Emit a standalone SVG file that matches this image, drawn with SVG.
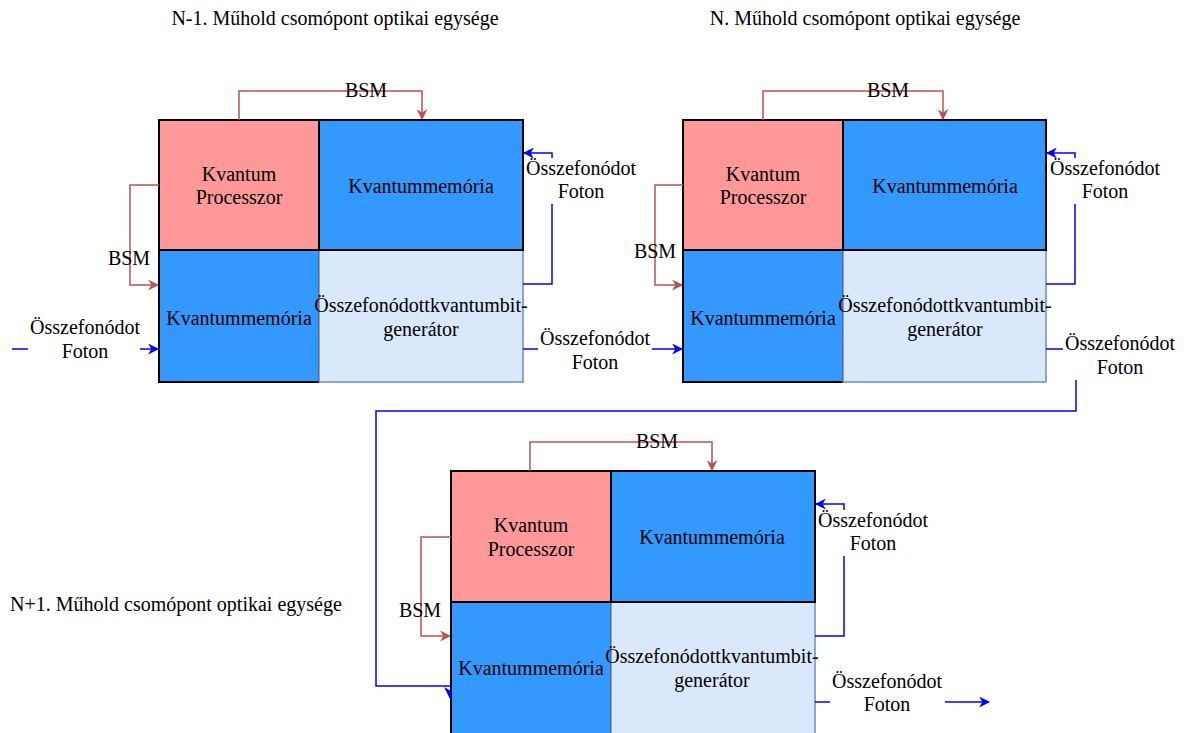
<svg xmlns="http://www.w3.org/2000/svg" width="1184" height="733" viewBox="0 0 1184 733">
  <style>
    text { font-family: "Liberation Serif", "Times New Roman", serif; font-size: 20px; fill: #000; text-anchor: middle; dominant-baseline: central; }
    .proc { fill: #FF9999; stroke: #000; stroke-width: 2; }
    .mem { fill: #3399FF; stroke: #000; stroke-width: 2; }
    .gen { fill: #DAE8FC; stroke: #6C8EBF; stroke-width: 1.5; }
    .bsm { fill: none; stroke: #B85450; stroke-width: 1.5; }
    .photon { fill: none; stroke: #0000FF; stroke-width: 1.5; }
  </style>
  <defs>
    <marker id="arrRed" viewBox="0 0 10 10" refX="9" refY="5" markerWidth="11" markerHeight="11" markerUnits="userSpaceOnUse" orient="auto">
      <path d="M0,0 L10,5 L0,10 L3,5 z" fill="#B85450"/>
    </marker>
    <marker id="arrBlue" viewBox="0 0 10 10" refX="9" refY="5" markerWidth="11" markerHeight="11" markerUnits="userSpaceOnUse" orient="auto">
      <path d="M0,0 L10,5 L0,10 L3,5 z" fill="#0000FF"/>
    </marker>
  </defs>

  <!-- titles -->
  <text x="335" y="18">N-1. Műhold csomópont optikai egysége</text>
  <text x="865" y="18">N. Műhold csomópont optikai egysége</text>
  <text x="10" y="604" style="text-anchor:start">N+1. Műhold csomópont optikai egysége</text>

  <!-- node N-1 -->
  <g id="node-n-minus-1" transform="translate(159,120)">
    <rect class="proc" x="0" y="0" width="160" height="130"/>
    <rect class="mem" x="0" y="130" width="160" height="132"/>
    <rect class="gen" x="160" y="130" width="204" height="132"/>
    <rect class="mem" x="160" y="0" width="204" height="130"/>
    <text x="80" y="54">Kvantum</text>
    <text x="80" y="77">Processzor</text>
    <text x="262" y="66">Kvantummemória</text>
    <text x="80" y="198">Kvantummemória</text>
    <text x="262" y="185">Összefonódottkvantumbit-</text>
    <text x="262" y="209">generátor</text>
  </g>

  <!-- node N -->
  <g id="node-n" transform="translate(683,120)">
    <rect class="proc" x="0" y="0" width="160" height="130"/>
    <rect class="mem" x="0" y="130" width="160" height="132"/>
    <rect class="gen" x="160" y="130" width="203" height="132"/>
    <rect class="mem" x="160" y="0" width="203" height="130"/>
    <text x="80" y="54">Kvantum</text>
    <text x="80" y="77">Processzor</text>
    <text x="262" y="66">Kvantummemória</text>
    <text x="80" y="198">Kvantummemória</text>
    <text x="262" y="185">Összefonódottkvantumbit-</text>
    <text x="262" y="209">generátor</text>
  </g>

  <!-- node N+1 -->
  <g id="node-n-plus-1" transform="translate(451,471)">
    <rect class="proc" x="0" y="0" width="160" height="131"/>
    <rect class="mem" x="0" y="131" width="160" height="132"/>
    <rect class="gen" x="160" y="131" width="204" height="132"/>
    <rect class="mem" x="160" y="0" width="204" height="131"/>
    <text x="80" y="54">Kvantum</text>
    <text x="80" y="78">Processzor</text>
    <text x="261" y="66">Kvantummemória</text>
    <text x="80" y="197">Kvantummemória</text>
    <text x="261" y="185">Összefonódottkvantumbit-</text>
    <text x="261" y="209">generátor</text>
  </g>

  <!-- connectors -->
  <g id="connectors">
    <!-- BSM links, node N-1 -->
    <path class="bsm" d="M239,120 V91 H422 V119" marker-end="url(#arrRed)"/>
    <path class="bsm" d="M159,185 H130 V285 H158" marker-end="url(#arrRed)"/>
    <!-- BSM links, node N -->
    <path class="bsm" d="M763,120 V91 H943 V119" marker-end="url(#arrRed)"/>
    <path class="bsm" d="M683,185 H655 V285 H682" marker-end="url(#arrRed)"/>
    <!-- BSM links, node N+1 -->
    <path class="bsm" d="M530,471 V442 H712 V470" marker-end="url(#arrRed)"/>
    <path class="bsm" d="M451,537 H421 V636 H450" marker-end="url(#arrRed)"/>

    <!-- photon loop, node N-1 -->
    <path class="photon" d="M523,284 H552 V204"/>
    <path class="photon" d="M552,158 V153 H524" marker-end="url(#arrBlue)"/>
    <!-- photon loop, node N -->
    <path class="photon" d="M1046,284 H1075 V204"/>
    <path class="photon" d="M1075,158 V153 H1047" marker-end="url(#arrBlue)"/>
    <!-- photon loop, node N+1 -->
    <path class="photon" d="M815,636 H844 V556"/>
    <path class="photon" d="M844,510 V504 H816" marker-end="url(#arrBlue)"/>

    <!-- incoming photon to node N-1 -->
    <path class="photon" d="M12,349 H28"/>
    <path class="photon" d="M140,349 H158" marker-end="url(#arrBlue)"/>
    <!-- node N-1 to node N -->
    <path class="photon" d="M523,349 H538"/>
    <path class="photon" d="M652,349 H682" marker-end="url(#arrBlue)"/>
    <!-- node N to node N+1 -->
    <path class="photon" d="M1046,349 H1063"/>
    <path class="photon" d="M1076,380 V411 H376 V686 H451"/>
    <path d="M444,687 L451,691 L451,701 Z" fill="#0000FF"/>
    <!-- outgoing photon from node N+1 -->
    <path class="photon" d="M815,702 H830"/>
    <path class="photon" d="M945,702 H989" marker-end="url(#arrBlue)"/>

    <!-- connector labels -->
    <g id="connector-labels">
      <text x="366" y="90">BSM</text>
      <text x="129" y="258">BSM</text>
      <text x="888" y="90">BSM</text>
      <text x="655" y="251">BSM</text>
      <text x="657" y="441">BSM</text>
      <text x="420" y="610">BSM</text>

      <text x="581" y="168">Összefonódot</text>
      <text x="581" y="191">Foton</text>
      <text x="1105" y="168">Összefonódot</text>
      <text x="1105" y="191">Foton</text>
      <text x="873" y="520">Összefonódot</text>
      <text x="873" y="543">Foton</text>

      <text x="85" y="327">Összefonódot</text>
      <text x="85" y="351">Foton</text>
      <text x="595" y="338">Összefonódot</text>
      <text x="595" y="362">Foton</text>
      <text x="1120" y="343">Összefonódot</text>
      <text x="1120" y="367">Foton</text>
      <text x="887" y="681">Összefonódot</text>
      <text x="887" y="704">Foton</text>
    </g>
  </g>
</svg>
